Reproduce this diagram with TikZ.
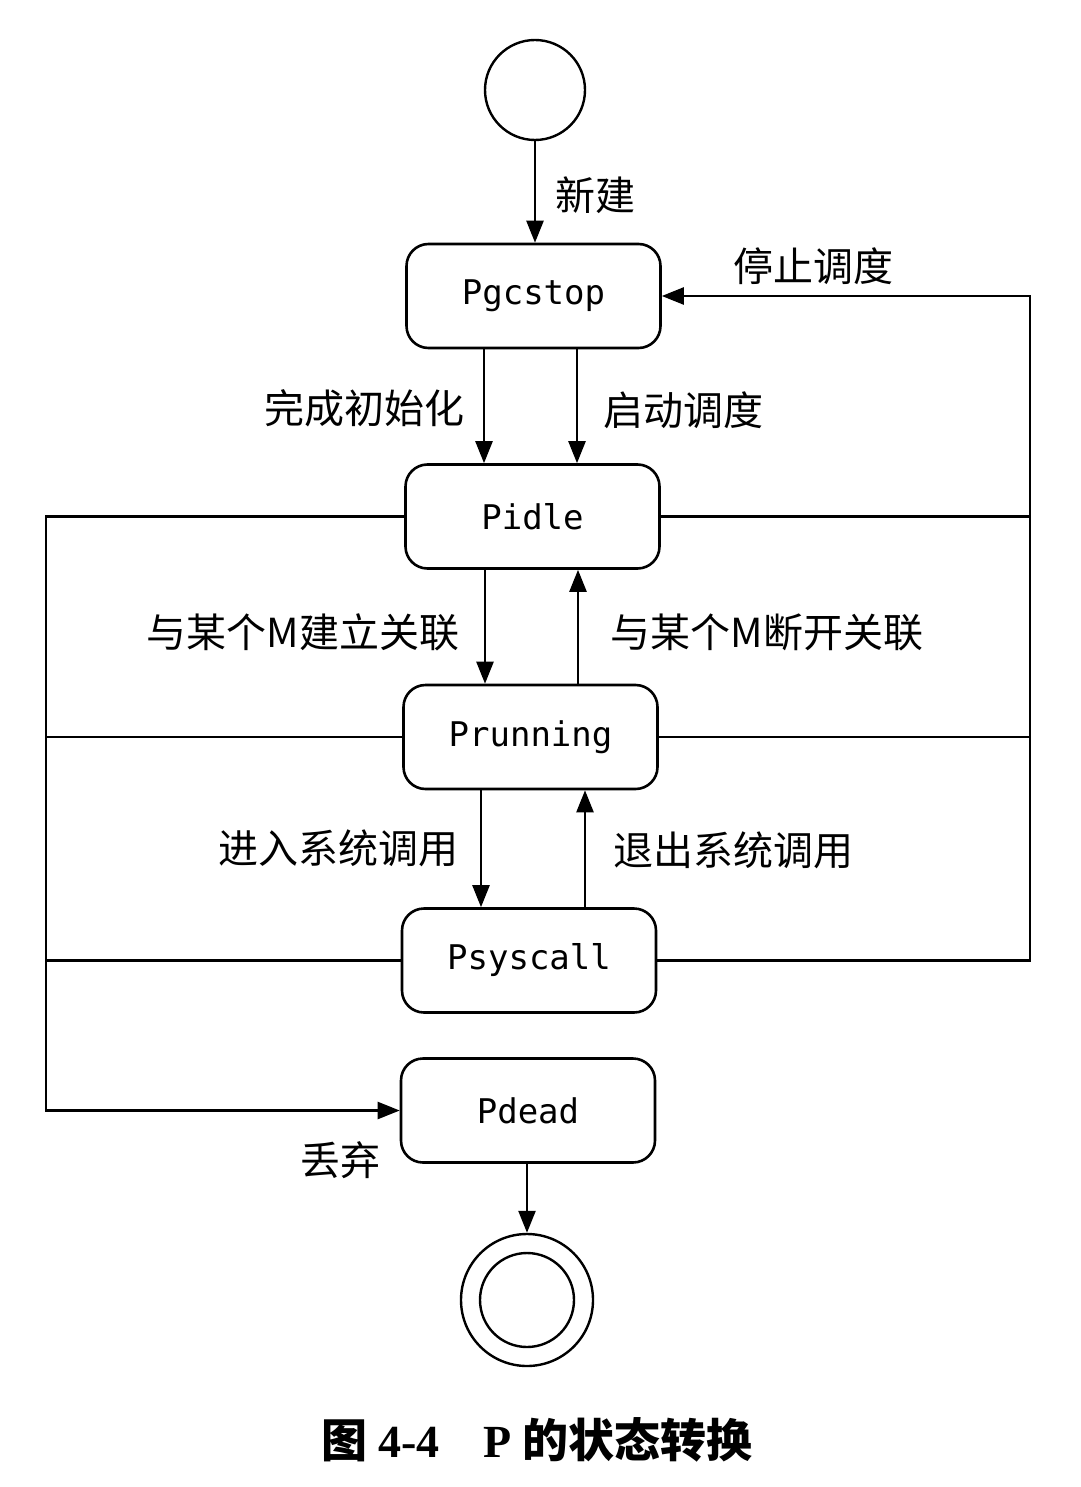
\documentclass[tikz,border=0pt]{standalone}
\usepackage{fontspec}
\usetikzlibrary{arrows.meta}
\newfontfamily\cjk{Noto Sans CJK SC}
\newfontfamily\boxfont{DejaVu Sans Mono}
\newfontfamily\capserif{Liberation Serif}
\tikzset{
  state/.style={draw, line width=2.6pt, rounded corners=22pt, minimum width=254pt, minimum height=104pt, inner sep=0pt, font=\boxfont\fontsize{34}{36}\selectfont},
  conn/.style={line width=2.4pt},
  arr/.style={conn, -{Triangle[length=22pt,width=17pt]}},
  lab/.style={font=\cjk\fontsize{40}{44}\selectfont, inner sep=0pt},
}
\begin{document}
\begin{tikzpicture}[x=1pt,y=-1pt]
\useasboundingbox (0,0) rectangle (1080,1487);
\fill[white] (0,0) rectangle (1080,1487);
% states
\node[draw, circle, line width=2.4pt, minimum size=100pt, inner sep=0pt] (init) at (535,90) {};
\node[state] (gcstop) at (533.5,296) {Pgcstop};
\node[state] (idle) at (532.5,516.5) {Pidle};
\node[state] (running) at (530.5,737) {Prunning};
\node[state] (syscall) at (529,960.5) {Psyscall};
\node[state] (dead) at (528,1110.5) {Pdead};
\node[draw, circle, line width=2.4pt, minimum size=132pt, inner sep=0pt] (final) at (527,1300) {};
\node[draw, circle, line width=2.4pt, minimum size=94pt, inner sep=0pt] (finalin) at (527,1300) {};
% columns
\coordinate (c1) at (484,0);
\coordinate (c2) at (577,0);
\coordinate (c3) at (485,0);
\coordinate (c4) at (578,0);
\coordinate (c5) at (481,0);
\coordinate (c6) at (585,0);
\coordinate (Lx) at (46,0);
\coordinate (Rx) at (1030,0);
% connectors
\draw[arr] (init) -- (init |- gcstop.north);
\draw[arr] (gcstop.south -| c1) -- (idle.north -| c1);
\draw[arr] (gcstop.south -| c2) -- (idle.north -| c2);
\draw[arr] (idle.south -| c3) -- (running.north -| c3);
\draw[arr] (running.north -| c4) -- (idle.south -| c4);
\draw[arr] (running.south -| c5) -- (syscall.north -| c5);
\draw[arr] (syscall.north -| c6) -- (running.south -| c6);
\draw[arr] (dead.south -| final) -- (final.north);
% right bus
\draw[arr] (syscall.east) -- (syscall.east -| Rx) -- (gcstop.east -| Rx) -- (gcstop.east);
\draw[conn] (idle.east) -- (idle.east -| Rx);
\draw[conn] (running.east) -- (running.east -| Rx);
% left bus
\draw[arr] (idle.west) -- (idle.west -| Lx) -- (dead.west -| Lx) -- (dead.west);
\draw[conn] (running.west) -- (running.west -| Lx);
\draw[conn] (syscall.west) -- (syscall.west -| Lx);
% labels
\node[lab] (l1) at (595,195) {新建};
\node[lab] (l2) at (813,266) {停止调度};
\node[lab] (l3) at (364,408) {完成初始化};
\node[lab] (l4) at (683,410) {启动调度};
\node[lab] (l5) at (303,632) {与某个M建立关联};
\node[lab] (l6) at (767,632) {与某个M断开关联};
\node[lab] (l7) at (338,848) {进入系统调用};
\node[lab] (l8) at (733,850) {退出系统调用};
\node[lab] (l9) at (340,1160) {丢弃};
\node[font=\cjk\bfseries\fontsize{46}{50}\selectfont, inner sep=0pt] (cap) at (537,1440) {图 {\capserif\bfseries 4-4}\hspace{44pt}{\capserif\bfseries P} 的状态转换};
\end{tikzpicture}
\end{document}
